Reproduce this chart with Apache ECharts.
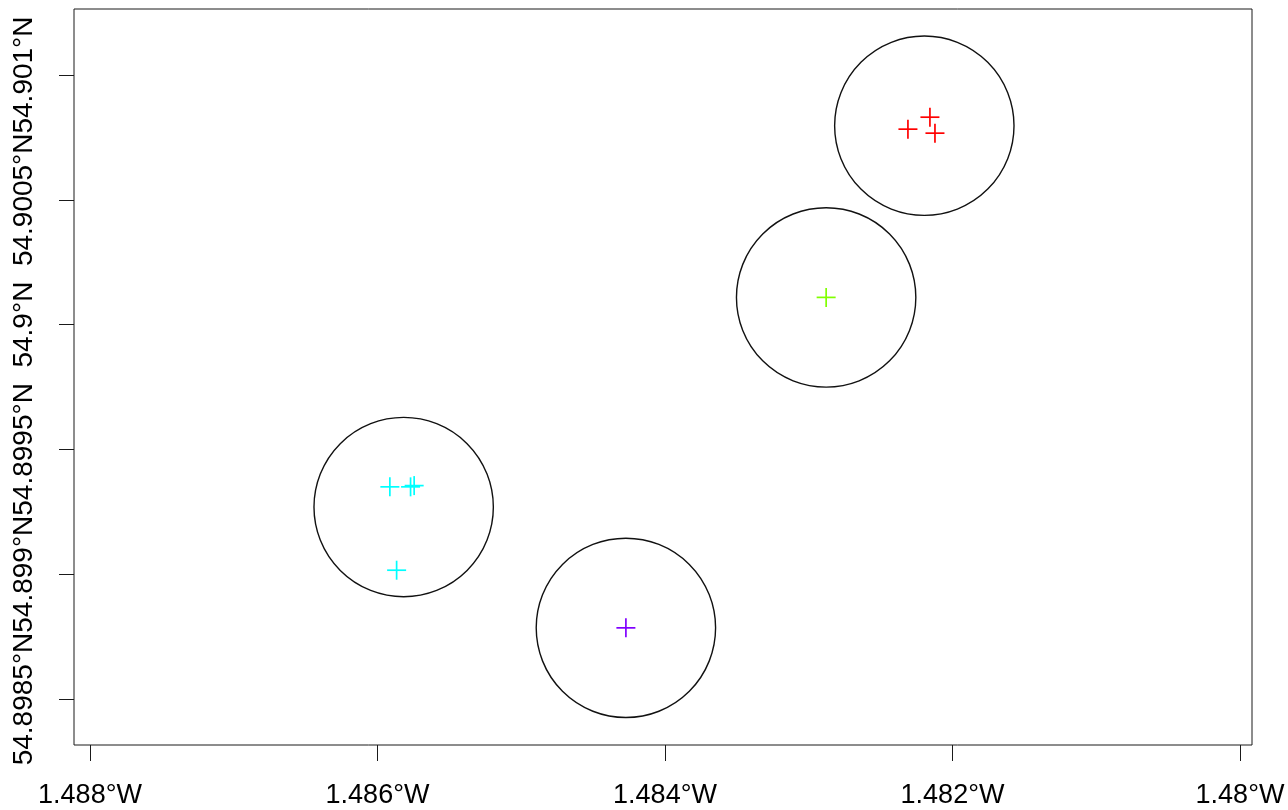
<!DOCTYPE html>
<html>
<head>
<meta charset="utf-8">
<script src="https://cdn.jsdelivr.net/npm/echarts@6/dist/echarts.min.js"></script>
<style>
  html, body { margin: 0; padding: 0; background: #fff; }
  #chart { width: 1288px; height: 810px; }
</style>
</head>
<body>
<div id="chart"></div>
<script>
// GPS fixes, grouped by cluster (longitude east-positive, latitude north)
const redLon = [-1.482310, -1.482157, -1.482122];
const redLat = [54.900783, 54.900831, 54.900767];
const greenLon = [-1.482879];
const greenLat = [54.900109];
const cyanLon = [-1.485914, -1.485770, -1.485745, -1.485867];
const cyanLat = [54.899350, 54.899350, 54.899355, 54.899016];
const purpleLon = [-1.484272];
const purpleLat = [54.898785];

// Cluster centres and the buffer drawn round each one
const centreLon = [-1.482196, -1.482879, -1.485818, -1.484272];
const centreLat = [54.900797, 54.900109, 54.899269, 54.898785];
const bufferRadiusM = 40;

// Axis ticks
const lonTicks = [-1.488, -1.486, -1.484, -1.482, -1.480];
const latTicks = [54.8985, 54.899, 54.8995, 54.9, 54.9005, 54.901];

const METRES_PER_DEG_LAT = 111320;
const bufferRadiusDeg = bufferRadiusM / METRES_PER_DEG_LAT;

const FONT = '"Liberation Sans", Arial, sans-serif';

function pairs(xs, ys) { return xs.map((x, i) => [x, ys[i]]); }

function crossSeries(xs, ys, color) {
  return {
    type: 'custom',
    xAxisIndex: 1, yAxisIndex: 1,
    silent: true,
    encode: { x: 0, y: 1 },
    data: pairs(xs, ys),
    renderItem: function (params, api) {
      const c = api.coord([api.value(0), api.value(1)]);
      const h = 9.5;
      const style = { stroke: color, lineWidth: 1.7, fill: null };
      return {
        type: 'group',
        children: [
          { type: 'line', shape: { x1: c[0] - h, y1: c[1], x2: c[0] + h, y2: c[1] }, style: style },
          { type: 'line', shape: { x1: c[0], y1: c[1] - h, x2: c[0], y2: c[1] + h }, style: style }
        ]
      };
    }
  };
}

const lonStep = lonTicks[1] - lonTicks[0];
const latStep = latTicks[1] - latTicks[0];

const option = {
  animation: false,
  backgroundColor: '#ffffff',
  grid: [
    // plot frame
    { left: 74, right: 36, top: 9, bottom: 65, show: true, borderColor: '#1a1a1a', borderWidth: 1, backgroundColor: 'transparent' },
    // data region spanning the outermost ticks
    { left: 90, right: 48, top: 75, bottom: 111, show: false }
  ],
  xAxis: [
    { gridIndex: 0, type: 'value', show: false, min: 0, max: 1 },
    {
      gridIndex: 1, type: 'value',
      min: lonTicks[0], max: lonTicks[lonTicks.length - 1], interval: +lonStep.toFixed(4),
      position: 'bottom', offset: 46,
      axisLine: { show: false },
      axisTick: { show: true, length: 16, lineStyle: { color: '#1a1a1a', width: 1 } },
      splitLine: { show: false },
      axisLabel: {
        show: true, margin: 37, color: '#000', fontSize: 27, fontFamily: FONT,
        showMinLabel: true, showMaxLabel: true,
        formatter: v => (+Math.abs(v).toFixed(3)) + '°W'
      }
    }
  ],
  yAxis: [
    { gridIndex: 0, type: 'value', show: false, min: 0, max: 1 },
    {
      gridIndex: 1, type: 'value',
      min: latTicks[0], max: latTicks[latTicks.length - 1], interval: +latStep.toFixed(4),
      position: 'left', offset: 16,
      axisLine: { show: false },
      axisTick: { show: true, length: 15, lineStyle: { color: '#1a1a1a', width: 1 } },
      splitLine: { show: false },
      axisLabel: {
        show: true, rotate: 90, margin: 36, color: '#000', fontSize: 28, fontFamily: FONT,
        showMinLabel: true, showMaxLabel: true, hideOverlap: false,
        formatter: v => (+v.toFixed(4)) + '°N'
      }
    }
  ],
  series: [
    {
      type: 'custom',
      xAxisIndex: 1, yAxisIndex: 1,
      silent: true,
      encode: { x: 0, y: 1 },
      data: pairs(centreLon, centreLat),
      renderItem: function (params, api) {
        const c = api.coord([api.value(0), api.value(1)]);
        const r = Math.abs(api.size([0, bufferRadiusDeg])[1]);
        return {
          type: 'circle',
          shape: { cx: c[0], cy: c[1], r: r },
          style: { fill: null, stroke: '#111', lineWidth: 1.4 }
        };
      }
    },
    crossSeries(redLon, redLat, '#FF0000'),
    crossSeries(greenLon, greenLat, '#80FF00'),
    crossSeries(cyanLon, cyanLat, '#00FFFF'),
    crossSeries(purpleLon, purpleLat, '#8000FF')
  ]
};

const chart = echarts.init(document.getElementById('chart'), null, { renderer: 'canvas' });
chart.setOption(option);
</script>
</body>
</html>
